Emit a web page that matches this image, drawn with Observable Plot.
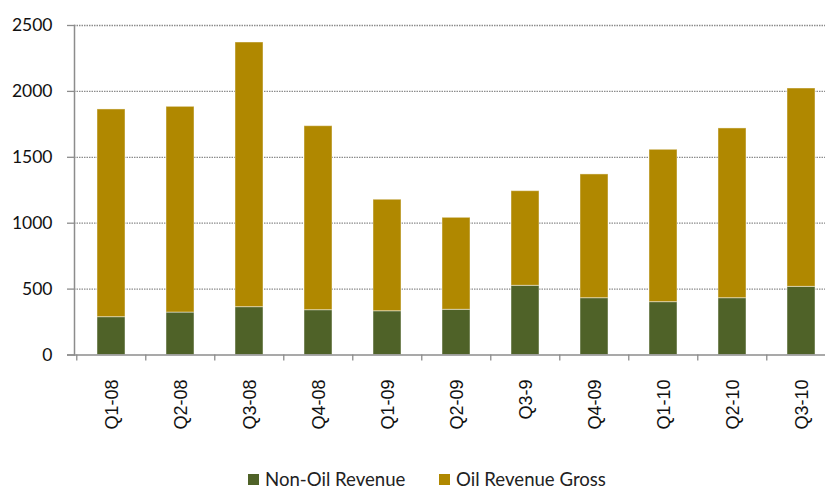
<!DOCTYPE html>
<html>
<head>
<meta charset="utf-8">
<script src="https://cdn.jsdelivr.net/npm/d3@7"></script>
<script src="https://cdn.jsdelivr.net/npm/@observablehq/plot@0.6"></script>
<style>
  html, body { margin: 0; padding: 0; background: #fff; overflow: hidden; }
  #chart svg { display: block; overflow: hidden; }
  .legend { position: relative; height: 27px; font-family: Lato, sans-serif; font-size: 18.6px; color: #222; }
  .legend .item { position: absolute; top: 6px; display: flex; align-items: center; white-space: nowrap; }
  .legend .sw { width: 11px; height: 11px; margin-right: 6px; display: inline-block; }
</style>
</head>
<body>
<div id="chart"></div>
<div class="legend" id="legend"></div>
<script>
const quarters = ["Q1-08","Q2-08","Q3-08","Q4-08","Q1-09","Q2-09","Q3-9","Q4-09","Q1-10","Q2-10","Q3-10"];
const nonOilRevenue = [287, 322, 363, 340, 332, 343, 525, 431, 401, 431, 517];
const oilRevenueGross = [1576, 1561, 2008, 1396, 846, 698, 718, 939, 1156, 1288, 1505];
const seriesNames = ["Non-Oil Revenue", "Oil Revenue Gross"];
const seriesColors = ["#4F6228", "#B08800"];
const yTicks = [0, 500, 1000, 1500, 2000, 2500];

const data = [];
quarters.forEach((q, i) => {
  data.push({quarter: q, series: seriesNames[0], value: nonOilRevenue[i]});
  data.push({quarter: q, series: seriesNames[1], value: oilRevenueGross[i]});
});

const W = 825, H = 462, mL = 74, mR = -13, mT = 25, mB = 107.5;
const step = (W - mR - mL) / quarters.length;

const chart = Plot.plot({
  width: W, height: H,
  marginLeft: mL, marginRight: mR, marginTop: mT, marginBottom: mB,
  style: {background: "#fff", overflow: "hidden"},
  x: {domain: quarters, paddingInner: 0.6, paddingOuter: 0.3, axis: null},
  y: {domain: [0, 2500], axis: null, label: null},
  color: {domain: seriesNames, range: seriesColors},
  marks: [
    Plot.ruleY(yTicks.filter(d => d > 0), {stroke: "#8c8c8c", strokeWidth: 1.3, strokeDasharray: "1.5,1"}),
    Plot.axisY({ticks: yTicks, tickSize: 7, tickPadding: 15, stroke: "#8c8c8c", tickFormat: d => String(d), label: null,
      fontFamily: "Lato, sans-serif", fontSize: 17.5, fill: "#111", strokeWidth: 1.3}),
    Plot.barY(data, {x: "quarter", y: "value", fill: "series", stroke: "#fff", strokeOpacity: 0.45, strokeWidth: 1,
      order: seriesNames}),
    Plot.frame({anchor: "left", stroke: "#8c8c8c", strokeWidth: 1.5}),
    Plot.ruleY([0], {stroke: "#8c8c8c", strokeWidth: 1.5, insetLeft: -7}),
    Plot.ruleX(quarters, {x: d => d, y1: 0, y2: 0, insetBottom: -6, dx: -step / 2, stroke: "#8c8c8c", strokeWidth: 1.3}),
    Plot.text(quarters, {x: d => d, y: 0, dy: 24.5, dx: 1, rotate: -90, textAnchor: "end", lineAnchor: "middle",
      fontFamily: "'Liberation Sans', Arial, sans-serif", fontSize: 18, fill: "#111"})
  ]
});
document.getElementById("chart").appendChild(chart);

const legend = document.getElementById("legend");
const lx = [248, 439];
seriesNames.forEach((name, i) => {
  const it = document.createElement("div");
  it.className = "item";
  it.style.left = lx[i] + "px";
  const sw = document.createElement("span");
  sw.className = "sw";
  sw.style.background = seriesColors[i];
  it.appendChild(sw);
  it.appendChild(document.createTextNode(name));
  legend.appendChild(it);
});
</script>
</body>
</html>
